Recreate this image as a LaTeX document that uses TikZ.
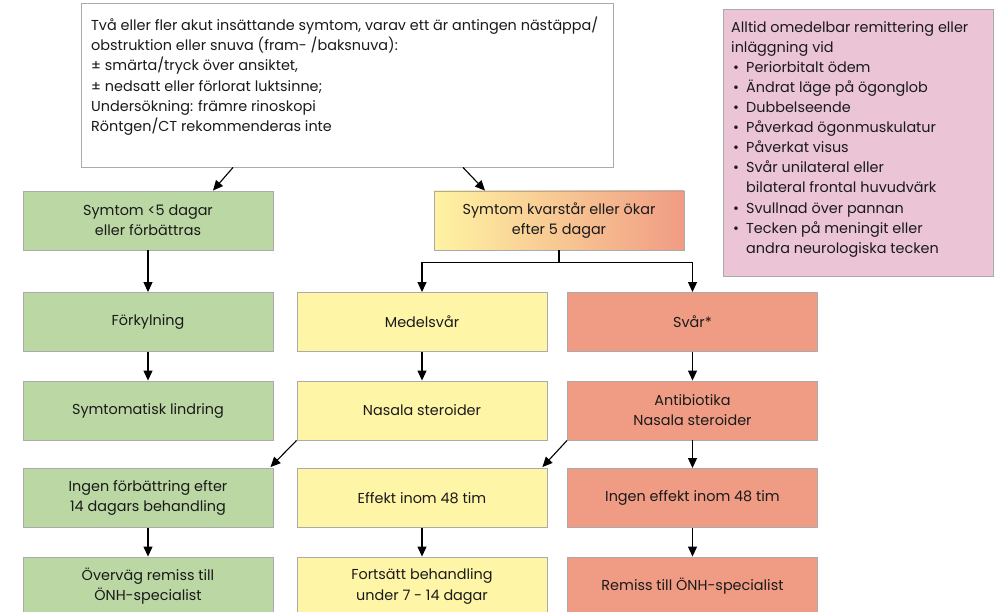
\documentclass[tikz,border=0pt]{standalone}
\usepackage{fontspec}
\setmainfont{Poppins}
\usetikzlibrary{arrows.meta}

\definecolor{grn}{HTML}{BBD7A3}
\definecolor{ylw}{HTML}{FFF5A6}
\definecolor{slm}{HTML}{F09C84}
\definecolor{pnk}{HTML}{EBC4D6}
\definecolor{gradl}{HTML}{FFF3A2}
\definecolor{boxline}{HTML}{ABABAB}
\definecolor{ink}{HTML}{1A1A1A}

\begin{document}
\begin{tikzpicture}[x=1pt,y=-1pt,
  every node/.style={font=\fontsize{14.4}{20.1}\selectfont, text=ink},
  flowbox/.style={draw=boxline, line width=0.9pt, minimum width=250pt,
    minimum height=59pt, align=center, inner sep=0pt},
  gbox/.style={flowbox, fill=grn},
  ybox/.style={flowbox, fill=ylw},
  rbox/.style={flowbox, fill=slm},
  arr/.style={draw=black, line width=1.1pt,
    -{Triangle[length=10pt,width=9pt]}}]
\path[use as bounding box] (0,0) rectangle (1000,612);
\clip (0,0) rectangle (1000,612);

% entry box with the presenting symptoms
\node[draw=boxline, line width=0.9pt, fill=white, minimum width=532pt,
  minimum height=164pt, inner sep=0pt] (top) at (347,85) {};
\node[anchor=north west, align=left, inner sep=0pt] (toptext) at (91,17)
  {Två eller fler akut insättande symtom, varav ett är antingen nästäppa/\\
   obstruktion eller snuva (fram- /baksnuva):\\
   ± smärta/tryck över ansiktet,\\
   ± nedsatt eller förlorat luktsinne;\\
   Undersökning: främre rinoskopi\\
   Röntgen/CT rekommenderas inte};

% red-flag box
\node[draw=boxline, line width=0.9pt, fill=pnk, minimum width=270pt,
  minimum height=267pt, inner sep=0pt] (flag) at (858,142.5) {};
\node[anchor=north west, align=left, inner sep=0pt] (flagtext) at (731,21)
  {Alltid omedelbar remittering eller\\
   inläggning vid\\
   \makebox[15pt][l]{\hspace{2pt}•}Periorbitalt ödem\\
   \makebox[15pt][l]{\hspace{2pt}•}Ändrat läge på ögonglob\\
   \makebox[15pt][l]{\hspace{2pt}•}Dubbelseende\\
   \makebox[15pt][l]{\hspace{2pt}•}Påverkad ögonmuskulatur\\
   \makebox[15pt][l]{\hspace{2pt}•}Påverkat visus\\
   \makebox[15pt][l]{\hspace{2pt}•}Svår unilateral eller\\
   \hspace*{15pt}bilateral frontal huvudvärk\\
   \makebox[15pt][l]{\hspace{2pt}•}Svullnad över pannan\\
   \makebox[15pt][l]{\hspace{2pt}•}Tecken på meningit eller\\
   \hspace*{15pt}andra neurologiska tecken};

% left column
\node[gbox] (g1) at (148,220.5) {Symtom <5 dagar\\eller förbättras};
\node[gbox] (g2) at (148,322) {Förkylning};
\node[gbox] (g3) at (148,410.5) {Symtomatisk lindring};
\node[gbox] (g4) at (148,498) {Ingen förbättring efter\\14 dagars behandling};
\node[gbox] (g5) at (148,586.5) {Överväg remiss till\\ÖNH-specialist};

% persisting symptoms
\node[flowbox, left color=gradl, right color=slm] (mid) at (559,220.5)
  {Symtom kvarstår eller ökar\\efter 5 dagar};

% moderate column
\node[ybox] (y1) at (422,322) {Medelsvår};
\node[ybox] (y2) at (422,410.5) {Nasala steroider};
\node[ybox] (y3) at (422,498) {Effekt inom 48 tim};
\node[ybox] (y4) at (422,586.5) {Fortsätt behandling\\under 7 - 14 dagar};

% severe column
\node[rbox] (r1) at (692.5,322) {Svår*};
\node[rbox] (r2) at (692.5,410.5) {Antibiotika\\Nasala steroider};
\node[rbox] (r3) at (692.5,498) {Ingen effekt inom 48 tim};
\node[rbox] (r4) at (692.5,586.5) {Remiss till ÖNH-specialist};

% connectors
\draw[arr] ([xshift=-114pt]top.south) -- ([xshift=65pt]g1.north);
\draw[arr] ([xshift=116pt]top.south) -- ([xshift=-74pt]mid.north);
\draw[arr] (g1) -- (g2);
\draw[arr] (g2) -- (g3);
\draw[arr] (g4) -- (g5);
\draw[arr] (mid.south) -- ++(0,12) -| (y1.north);
\draw[arr] (mid.south) -- ++(0,12) -| (r1.north);
\draw[arr] (y1) -- (y2);
\draw[arr] (y3) -- (y4);
\draw[arr] (r1) -- (r2);
\draw[arr] (r2) -- (r3);
\draw[arr] (r3) -- (r4);
\draw[arr] (y2.south west) -- ([xshift=-3pt,yshift=1pt]g4.north east);
\draw[arr] (r2.south west) -- ([xshift=-5pt,yshift=1pt]y3.north east);
\end{tikzpicture}
\end{document}
